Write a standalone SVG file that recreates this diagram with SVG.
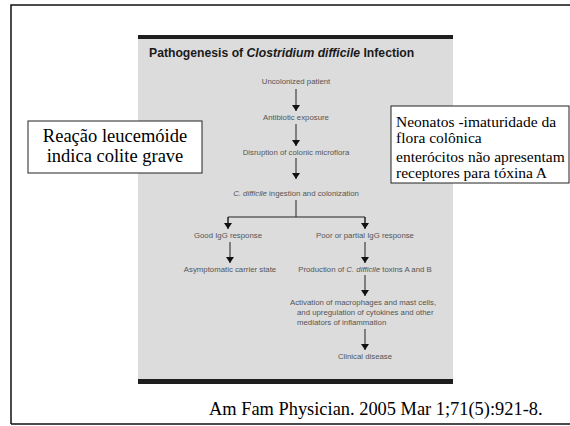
<svg xmlns="http://www.w3.org/2000/svg" width="570" height="426" viewBox="0 0 570 426">
<style>
.f{font-family:"Liberation Sans","DejaVu Sans",sans-serif;font-size:7.8px;fill:#555;text-anchor:middle}
.fl{font-family:"Liberation Sans","DejaVu Sans",sans-serif;font-size:7.8px;fill:#555}
.t{font-family:"Liberation Sans","DejaVu Sans",sans-serif;font-size:12.2px;font-weight:bold;fill:#1a1a1a}
.r{font-family:"Liberation Serif","Times New Roman",serif;fill:#000}
.c{stroke:#222;stroke-width:1;fill:none}
.box{fill:#fff;stroke:#222;stroke-width:1}
</style>
<defs>
<marker id="ah" viewBox="0 0 6 8" refX="6" refY="4" markerWidth="6" markerHeight="8" markerUnits="userSpaceOnUse" orient="auto">
<path d="M0,0 L6,4 L0,8 Z" fill="#111"/>
</marker>
</defs>
<rect x="0" y="0" width="570" height="426" fill="#fff"/>
<path d="M11,424 L11,5 L572,5 M11,424 L572,424" stroke="#111" stroke-width="1.5" fill="none"/>
<g id="panel">
<rect x="138" y="35" width="315" height="349" fill="#dcdcdc"/>
<rect x="138" y="35" width="315" height="4" fill="#1e1e1e"/>
<rect x="138" y="379" width="315" height="5" fill="#1e1e1e"/>
<text class="t" x="149" y="57">Pathogenesis of <tspan font-style="italic">Clostridium difficile</tspan> Infection</text>
</g>
<g id="connectors">
<line class="c" x1="296" y1="89" x2="296" y2="111" marker-end="url(#ah)"/>
<line class="c" x1="296" y1="124" x2="296" y2="146" marker-end="url(#ah)"/>
<line class="c" x1="296" y1="158" x2="296" y2="179" marker-end="url(#ah)"/>
<polyline class="c" points="296,200 296,217"/>
<polyline class="c" points="228,228 228,217 365,217 365,228"/>
<line class="c" x1="228" y1="217" x2="228" y2="229" marker-end="url(#ah)"/>
<line class="c" x1="365" y1="217" x2="365" y2="229" marker-end="url(#ah)"/>
<line class="c" x1="230" y1="242" x2="230" y2="263" marker-end="url(#ah)"/>
<line class="c" x1="365" y1="242" x2="365" y2="263" marker-end="url(#ah)"/>
<line class="c" x1="365" y1="275" x2="365" y2="296" marker-end="url(#ah)"/>
<line class="c" x1="365" y1="329" x2="365" y2="350" marker-end="url(#ah)"/>
</g>
<g id="n1"><text class="f" x="296" y="84">Uncolonized patient</text></g>
<g id="n2"><text class="f" x="296" y="120">Antibiotic exposure</text></g>
<g id="n3"><text class="f" x="296" y="155">Disruption of colonic microflora</text></g>
<g id="n4"><text class="f" x="296" y="196"><tspan font-style="italic">C. difficile</tspan> ingestion and colonization</text></g>
<g id="n5"><text class="f" x="228" y="238">Good IgG response</text></g>
<g id="n6"><text class="f" x="365" y="238">Poor or partial IgG response</text></g>
<g id="n7"><text class="f" x="230" y="272">Asymptomatic carrier state</text></g>
<g id="n8"><text class="f" x="365" y="272">Production of <tspan font-style="italic">C. difficile</tspan> toxins A and B</text></g>
<g id="n9">
<text class="fl" x="290" y="305">Activation of macrophages and mast cells,</text>
<text class="fl" x="297" y="315">and upregulation of cytokines and other</text>
<text class="fl" x="297" y="325">mediators of inflammation</text>
</g>
<g id="n10"><text class="f" x="365" y="359">Clinical disease</text></g>
<g id="note1">
<rect class="box" x="28" y="121" width="174" height="52"/>
<text class="r" x="115" y="142" font-size="18.5" text-anchor="middle">Reação leucemóide</text>
<text class="r" x="115" y="162" font-size="18.5" text-anchor="middle">indica colite grave</text>
</g>
<g id="note2">
<rect class="box" x="391" y="106" width="178" height="77"/>
<text class="r" x="396" y="127" font-size="15.5">Neonatos -imaturidade da</text>
<text class="r" x="396" y="143" font-size="15.5">flora colônica</text>
<text class="r" x="396" y="162" font-size="15.5">enterócitos não apresentam</text>
<text class="r" x="396" y="178" font-size="15.5">receptores para tóxina A</text>
</g>
<g id="citation">
<text class="r" x="209" y="415" font-size="18.4">Am Fam Physician. 2005 Mar 1;71(5):921-8.</text>
</g>
</svg>
